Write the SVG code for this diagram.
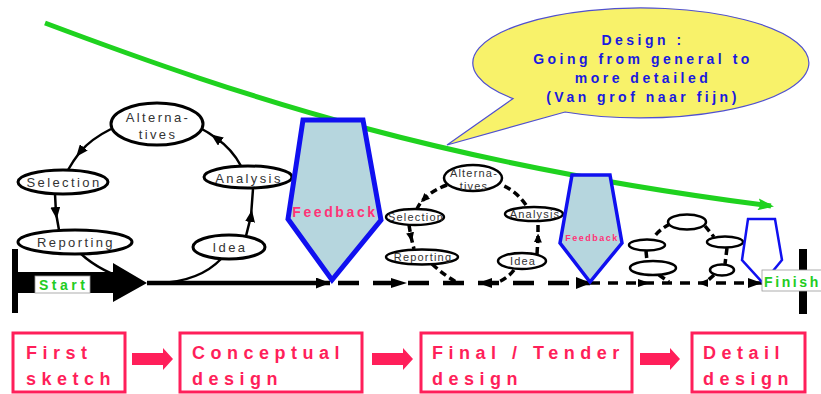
<svg xmlns="http://www.w3.org/2000/svg" width="821" height="394" viewBox="0 0 821 394">
<style>
text{font-family:"Liberation Sans",Arial,sans-serif}
.node{fill:#fff;stroke:#000;stroke-width:3}
.nodes{fill:#fff;stroke:#000;stroke-width:2.5}
.lt{font-size:13px;letter-spacing:2.4px;fill:#333;text-anchor:middle}
.st{font-size:11px;letter-spacing:1.2px;fill:#333;text-anchor:middle}
.arc{fill:none;stroke:#000;stroke-width:2.5}
.darc{fill:none;stroke:#000;stroke-width:3.5;stroke-dasharray:7 4}
.fb{fill:#b6d6de;stroke:#1010f0;stroke-linejoin:miter}
.pink{fill:none;stroke:#ff1f5a;stroke-width:3}
.pt{font-size:18px;font-weight:bold;letter-spacing:5.5px;fill:#ff1f5a}
.bt{font-size:14px;font-weight:bold;letter-spacing:3.5px;fill:#1a1adf;text-anchor:middle}
.gt{font-size:14px;font-weight:bold;letter-spacing:3.5px;fill:#22cc22}
</style>
<defs>
<marker id="ah" markerUnits="userSpaceOnUse" markerWidth="12" markerHeight="10" refX="6" refY="5" orient="auto"><path d="M0,0 L12,5 L0,10 z" fill="#000"/></marker>
<marker id="ahs" markerUnits="userSpaceOnUse" markerWidth="9" markerHeight="8" refX="4.5" refY="4" orient="auto"><path d="M0,0 L9,4 L0,8 z" fill="#000"/></marker>
<marker id="ahe" markerUnits="userSpaceOnUse" markerWidth="14" markerHeight="11" refX="14" refY="5.5" orient="auto"><path d="M0,0 L14,5.5 L0,11 z" fill="#000"/></marker>
<marker id="gh" markerUnits="userSpaceOnUse" markerWidth="16" markerHeight="12" refX="13" refY="6" orient="auto"><path d="M0,0 L16,6 L0,12 L3,6 z" fill="#1fd21f"/></marker>
</defs>

<!-- speech bubble -->
<g id="bubble">
<path d="M513,98.6 A168,55 0 1 1 565,112 L447,145 Z" fill="#f8f26a" stroke="#5050d0" stroke-width="1.2"/>
<text class="bt" x="643" y="45">Design :</text>
<text class="bt" x="643" y="64">Going from general to</text>
<text class="bt" x="643" y="83">more detailed</text>
<text class="bt" x="643" y="102">(Van grof naar fijn)</text>
</g>

<!-- connectors -->
<g id="connectors">
<!-- first loop -->
<path class="arc" d="M111,129 Q91,139 80,152 Q73,161 68,170" marker-mid="url(#ah)"/>
<path class="arc" d="M55,194 L56,213 L59,230" marker-mid="url(#ah)"/>
<path class="arc" d="M80,253 Q100,272 135,282"/>
<path class="arc" d="M160,283 Q200,281 221,259"/>
<path class="arc" d="M246,236 Q249,224 251,216 L253,189" marker-mid="url(#ah)"/>
<path class="arc" d="M241,166 Q232,149 216,138 Q208,132 200,128" marker-mid="url(#ah)"/>
<!-- second loop (dashed) -->
<path class="darc" d="M447,185 Q433,190 424,199 Q419,204 417,209" marker-mid="url(#ahs)"/>
<path class="darc" d="M409,225 L411,237 L414,249" marker-mid="url(#ahs)"/>
<path class="darc" d="M432,264 Q445,276 458,283"/>
<path class="darc" d="M514,270 Q507,279 496,283"/>
<path class="darc" d="M537,254 L538,238 L538,221" marker-mid="url(#ahs)"/>
<path class="darc" d="M526,205 Q517,192 504,186" marker-mid="url(#ahs)"/>
<!-- third loop (dashed) -->
<path class="darc" d="M670,224 Q660,229 654,237"/>
<path class="darc" d="M705,226 L714,237"/>
<path class="darc" d="M646,251 L647,261"/>
<path class="darc" d="M727,248 L725,264"/>
<path class="darc" d="M659,275 L669,282"/>
<path class="darc" d="M714,275 L705,283"/>
<!-- main line -->
<path d="M147,283 L330,283" stroke="#000" stroke-width="4.5" fill="none" marker-end="url(#ahe)"/>
<path d="M338,283 L590,283" stroke="#000" stroke-width="4.5" fill="none" stroke-dasharray="21 14"/>
<path d="M590,283 L762,283" stroke="#000" stroke-width="3.5" fill="none" stroke-dasharray="10 8"/>
<path d="M391,278 L407,283 L391,288 z" fill="#000"/>
<path d="M492,278 L478,283 L492,288 z" fill="#000"/>
<path d="M576,277 L591,283 L576,289 z" fill="#000"/>
<path d="M638,279 L650,283 L638,287 z" fill="#000"/>
<path d="M708,279 L698,283 L708,287 z" fill="#000"/>
<path d="M748,278 L762,283 L748,288 z" fill="#000"/>
<!-- green line -->
<path d="M45,23 C250,100 450,165 771,206" fill="none" stroke="#1fd21f" stroke-width="5" marker-end="url(#gh)"/>
</g>

<!-- start -->
<g id="start">
<rect x="12" y="249" width="6" height="64" fill="#000"/>
<path d="M18,272 L113,272 L113,263 L147,283 L113,302 L113,293 L18,293 z" fill="#000"/>
<rect x="35" y="276" width="55" height="17" fill="#fff" stroke="#999" stroke-width="0.8"/>
<text class="gt" x="39" y="290">Start</text>
</g>

<!-- finish -->
<g id="finish">
<rect x="799" y="249" width="8" height="65" fill="#000"/>
</g>

<!-- first loop nodes -->
<g id="n-alternatives">
<ellipse class="node" cx="157" cy="124" rx="46" ry="21"/>
<text class="lt" x="158" y="122">Alterna-</text>
<text class="lt" x="158" y="139">tives</text>
</g>
<g id="n-selection">
<ellipse class="node" cx="63" cy="182" rx="45" ry="12"/>
<text class="lt" x="64" y="187">Selection</text>
</g>
<g id="n-reporting">
<ellipse class="node" cx="75" cy="242" rx="57" ry="12"/>
<text class="lt" x="76" y="247">Reporting</text>
</g>
<g id="n-idea">
<ellipse class="node" cx="229" cy="247" rx="36" ry="12"/>
<text class="lt" x="230" y="252">Idea</text>
</g>
<g id="n-analysis">
<ellipse class="node" cx="248" cy="177" rx="44" ry="11"/>
<text class="lt" x="249" y="183">Analysis</text>
</g>

<!-- feedback 1 -->
<g id="feedback1">
<path class="fb" stroke-width="5" d="M303,120 L363,120 L381,220 L332,280 L288,219 z"/>
<text x="335" y="217" font-size="14" font-weight="bold" letter-spacing="2.6" fill="#ff3377" text-anchor="middle">Feedback</text>
</g>

<!-- second loop nodes -->
<g id="s-alternatives">
<ellipse class="nodes" cx="473" cy="178" rx="29" ry="13"/>
<text class="st" x="474" y="177">Alterna-</text>
<text class="st" x="474" y="190">tives</text>
</g>
<g id="s-selection">
<ellipse class="nodes" cx="415" cy="217" rx="29" ry="8"/>
<text class="st" x="416" y="221">Selection</text>
</g>
<g id="s-reporting">
<ellipse class="nodes" cx="422" cy="257" rx="36" ry="7.5"/>
<text class="st" x="423" y="261">Reporting</text>
</g>
<g id="s-idea">
<ellipse class="nodes" cx="522" cy="261" rx="24" ry="8"/>
<text class="st" x="523" y="265">Idea</text>
</g>
<g id="s-analysis">
<ellipse class="nodes" cx="534" cy="214" rx="29" ry="7"/>
<text class="st" x="535" y="218">Analysis</text>
</g>

<!-- feedback 2 -->
<g id="feedback2">
<path class="fb" stroke-width="3.5" d="M572,175 L610,175 L622,243 L590,282 L560,243 z"/>
<text x="592" y="241" font-size="9" font-weight="bold" letter-spacing="1.5" fill="#ff3377" text-anchor="middle">Feedback</text>
</g>

<!-- third loop nodes -->
<g id="d-top"><ellipse class="nodes" cx="687" cy="222" rx="19" ry="7.5"/></g>
<g id="d-left"><ellipse class="nodes" cx="647" cy="245" rx="18" ry="5.5"/></g>
<g id="d-right"><ellipse class="nodes" cx="725" cy="242" rx="18" ry="5.5"/></g>
<g id="d-bottomleft"><ellipse class="nodes" cx="653" cy="268" rx="23" ry="7"/></g>
<g id="d-bottomright"><ellipse class="nodes" cx="722" cy="270" rx="12" ry="5.5"/></g>

<!-- feedback 3 -->
<g id="feedback3">
<path d="M748,219 L775,219 L782,260 L763,283 L742,260 z" fill="none" stroke="#1010f0" stroke-width="2.5"/>
</g>

<g id="finish-label">
<rect x="762" y="270" width="62" height="21" fill="#fff" stroke="#999" stroke-width="0.8"/>
<text class="gt" x="764" y="287" style="letter-spacing:2.6px">Finish</text>
</g>

<!-- bottom stages -->
<g id="stage1">
<rect class="pink" x="13" y="333" width="112" height="59"/>
<text class="pt" x="26" y="359">First</text>
<text class="pt" x="26" y="385">sketch</text>
</g>
<g id="stage2">
<rect class="pink" x="180" y="333" width="182" height="59"/>
<text class="pt" x="192" y="359">Conceptual</text>
<text class="pt" x="192" y="385">design</text>
</g>
<g id="stage3">
<rect class="pink" x="421" y="333" width="211" height="59"/>
<text class="pt" x="432" y="359">Final / Tender</text>
<text class="pt" x="432" y="385">design</text>
</g>
<g id="stage4">
<rect class="pink" x="692" y="333" width="113" height="59"/>
<text class="pt" x="703" y="359">Detail</text>
<text class="pt" x="703" y="385">design</text>
</g>
<g id="stage-arrows">
<path d="M132,353 L163,353 L163,348 L173,359 L163,370 L163,365 L132,365 z" fill="#ff1f5a"/>
<path d="M372,353 L403,353 L403,348 L413,359 L403,370 L403,365 L372,365 z" fill="#ff1f5a"/>
<path d="M640,353 L670,353 L670,348 L680,359 L670,370 L670,365 L640,365 z" fill="#ff1f5a"/>
</g>
</svg>
